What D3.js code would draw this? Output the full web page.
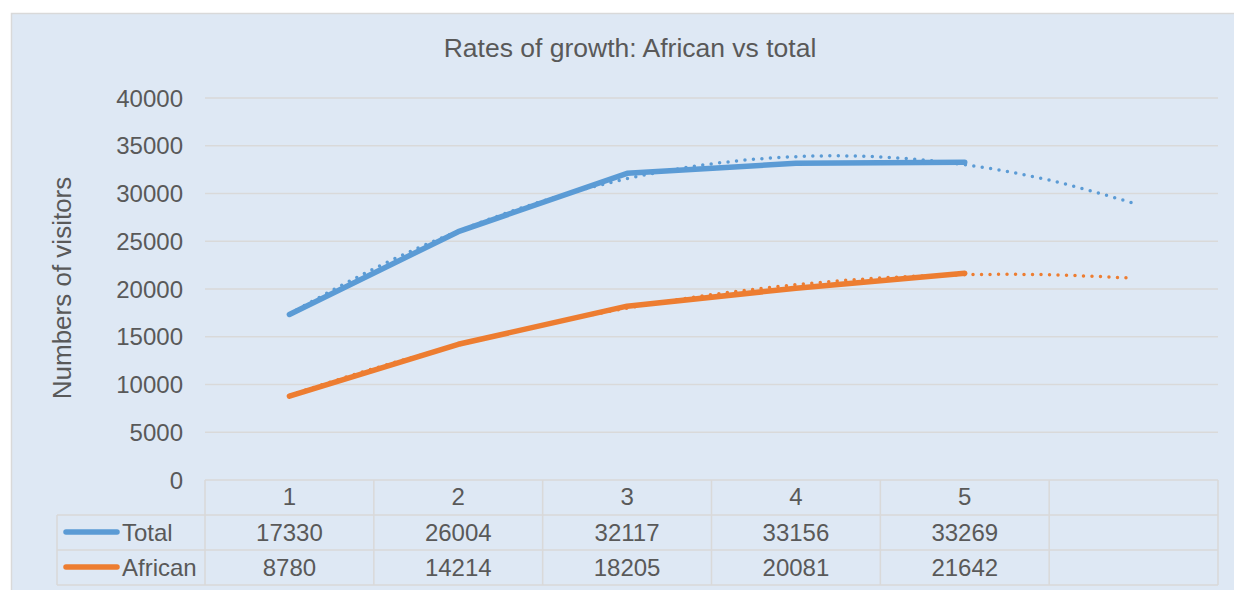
<!DOCTYPE html>
<html>
<head>
<meta charset="utf-8">
<script src="https://cdn.jsdelivr.net/npm/d3@7"></script>
<style>
body { margin: 0; background: #fff; }
text { font-family: "Liberation Sans", Arial, sans-serif; fill: #595959; }
</style>
</head>
<body>
<script>
// data
const categories = ["1", "2", "3", "4", "5", ""];
const totalValues = [17330, 26004, 32117, 33156, 33269];
const africanValues = [8780, 14214, 18205, 20081, 21642];
const seriesNames = ["Total", "African"];
const seriesColors = ["#5b9bd5", "#ed7d31"];

// dotted trend lines (forecast one period forward)
const trendX = [1, 1.5, 2, 2.5, 3, 3.5, 4, 4.5, 5, 5.5, 6];
const totalTrend = [17400, 22120, 26060, 29200, 31550, 33100, 33860, 33830, 33010, 31400, 28990];
const africanTrend = [8860, 11670, 14130, 16240, 17990, 19400, 20450, 21150, 21490, 21490, 21130];

const yTicks = [0, 5000, 10000, 15000, 20000, 25000, 30000, 35000, 40000];

const W = 1234, H = 590;
const plotLeft = 205, plotRight = 1218, plotTop = 98, plotBottom = 480;
const rowH = 35;

const svg = d3.select("body").append("svg")
    .attr("width", W)
    .attr("height", H);

// chart area background + border
svg.append("rect")
    .attr("x", 11.5).attr("y", 13.5)
    .attr("width", W + 20).attr("height", H + 20)
    .attr("fill", "#dee8f4")
    .attr("stroke", "#d9d9d9")
    .attr("stroke-width", 1.5);

const x = d3.scaleLinear().domain([0.5, 6.5]).range([plotLeft, plotRight]);
const band = d3.scaleBand().domain(categories).range([plotLeft, plotRight]);
const y = d3.scaleLinear().domain([0, 40000]).range([plotBottom, plotTop]);

// title
svg.append("text")
    .attr("x", 630).attr("y", 57)
    .attr("text-anchor", "middle")
    .style("font-size", "26.5px")
    .text("Rates of growth: African vs total");

// y axis title
svg.append("text")
    .attr("transform", "translate(71,288) rotate(-90)")
    .attr("text-anchor", "middle")
    .style("font-size", "26px")
    .text("Numbers of visitors");

// gridlines
svg.append("g").selectAll("line")
    .data(yTicks.filter(d => d > 0))
    .join("line")
    .attr("x1", plotLeft).attr("x2", plotRight)
    .attr("y1", d => y(d)).attr("y2", d => y(d))
    .attr("stroke", "#d9d9d9")
    .attr("stroke-width", 1.5);

// y tick labels
svg.append("g").selectAll("text")
    .data(yTicks)
    .join("text")
    .attr("x", 183)
    .attr("y", d => y(d) + 8.6)
    .attr("text-anchor", "end")
    .style("font-size", "24px")
    .text(d => d);

// data table
const table = svg.append("g")
    .attr("stroke", "#d9d9d9")
    .attr("stroke-width", 1.5)
    .attr("fill", "none");

// horizontal rules
table.append("line").attr("x1", plotLeft).attr("x2", plotRight).attr("y1", plotBottom).attr("y2", plotBottom);
[1, 2, 3].forEach(r => {
    table.append("line")
        .attr("x1", 57).attr("x2", plotRight)
        .attr("y1", plotBottom + r * rowH).attr("y2", plotBottom + r * rowH);
});
// vertical rules
table.append("line").attr("x1", 57).attr("x2", 57).attr("y1", plotBottom + rowH).attr("y2", plotBottom + 3 * rowH);
table.selectAll("line.col")
    .data(categories)
    .join("line")
    .attr("class", "col")
    .attr("x1", d => band(d)).attr("x2", d => band(d))
    .attr("y1", plotBottom).attr("y2", plotBottom + 3 * rowH);
table.append("line").attr("x1", plotRight).attr("x2", plotRight).attr("y1", plotBottom).attr("y2", plotBottom + 3 * rowH);

// category labels
svg.append("g").selectAll("text")
    .data(categories)
    .join("text")
    .attr("x", d => band(d) + band.bandwidth() / 2)
    .attr("y", plotBottom + 25)
    .attr("text-anchor", "middle")
    .style("font-size", "24px")
    .text(d => d);

const allValues = [totalValues, africanValues];
allValues.forEach((vals, s) => {
    const rowY = plotBottom + (s + 1) * rowH;
    // legend key
    svg.append("line")
        .attr("x1", 66).attr("x2", 117)
        .attr("y1", rowY + 17).attr("y2", rowY + 17)
        .attr("stroke", seriesColors[s])
        .attr("stroke-width", 5.5)
        .attr("stroke-linecap", "round");
    svg.append("text")
        .attr("x", 122)
        .attr("y", rowY + 25.5)
        .style("font-size", "24px")
        .text(seriesNames[s]);
    svg.append("g").selectAll("text")
        .data(vals)
        .join("text")
        .attr("x", (d, i) => band(categories[i]) + band.bandwidth() / 2)
        .attr("y", rowY + 25.5)
        .attr("text-anchor", "middle")
        .style("font-size", "24px")
        .text(d => d);
});

// series lines
const line = d3.line()
    .x((d, i) => x(i + 1))
    .y(d => y(d));

allValues.forEach((vals, s) => {
    svg.append("path")
        .datum(vals)
        .attr("d", line)
        .attr("fill", "none")
        .attr("stroke", seriesColors[s])
        .attr("stroke-width", 5.5)
        .attr("stroke-linecap", "round")
        .attr("stroke-linejoin", "round");
});

// trend lines
const trendLine = d3.line()
    .x((d, i) => x(trendX[i]))
    .y(d => y(d))
    .curve(d3.curveNatural);

[totalTrend, africanTrend].forEach((vals, s) => {
    svg.append("path")
        .datum(vals)
        .attr("d", trendLine)
        .attr("fill", "none")
        .attr("stroke", seriesColors[s])
        .attr("stroke-width", 3.5)
        .attr("stroke-dasharray", "0 8.5")
        .attr("stroke-linecap", "round");
});
</script>
</body>
</html>
